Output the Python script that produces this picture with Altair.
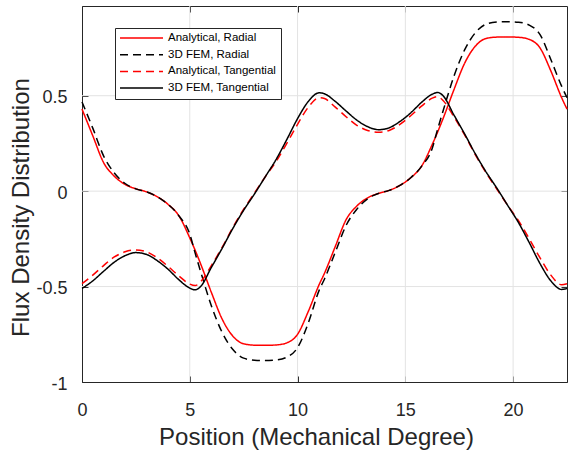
import altair as alt
import pandas as pd

# ---------------- data ----------------
x = [0, 0.5, 1, 1.5, 2, 2.5, 3, 3.5, 4, 4.5, 5, 5.25, 5.5, 6, 6.5, 7, 7.5, 8, 8.5, 9, 9.5, 10, 10.5, 11,
     11.25, 11.75, 12.25, 12.75, 13.25, 13.75, 14.25, 14.75, 15.25, 15.75, 16.25, 16.5, 16.75, 17.25,
     17.75, 18.25, 18.75, 19.25, 19.75, 20.25, 20.75, 21.25, 21.75, 22.25, 22.5]

analytical_radial = [0.43, 0.29, 0.15, 0.078, 0.035, 0.012, -0.004, -0.03, -0.07, -0.13, -0.245, -0.31,
                     -0.38, -0.53, -0.67, -0.76, -0.80, -0.807, -0.808, -0.806, -0.795, -0.75, -0.63, -0.49,
                     -0.43, -0.29, -0.15, -0.078, -0.035, -0.012, 0.004, 0.03, 0.07, 0.13, 0.245, 0.31,
                     0.38, 0.53, 0.67, 0.76, 0.80, 0.807, 0.808, 0.806, 0.795, 0.75, 0.63, 0.49, 0.43]

fem_radial = [0.467, 0.33, 0.185, 0.095, 0.04, 0.012, -0.004, -0.03, -0.07, -0.13, -0.225, -0.325,
              -0.42, -0.60, -0.74, -0.83, -0.875, -0.886, -0.888, -0.885, -0.87, -0.82, -0.69, -0.52,
              -0.46, -0.32, -0.18, -0.095, -0.04, -0.012, 0.004, 0.03, 0.07, 0.13, 0.225, 0.325,
              0.42, 0.60, 0.74, 0.83, 0.875, 0.886, 0.888, 0.885, 0.87, 0.82, 0.69, 0.55, 0.49]

analytical_tangential = [-0.485, -0.44, -0.39, -0.345, -0.318, -0.308, -0.318, -0.35, -0.395, -0.445, -0.487,
                         -0.495, -0.475, -0.39, -0.295, -0.19, -0.095, -0.01, 0.075, 0.155, 0.25, 0.35, 0.44,
                         0.49,
                         0.485, 0.44, 0.39, 0.345, 0.318, 0.308, 0.318, 0.35, 0.395, 0.445, 0.487,
                         0.495, 0.475, 0.39, 0.295, 0.19, 0.095, 0.01, -0.075, -0.155, -0.25, -0.35, -0.44,
                         -0.49, -0.485]

fem_tangential = [-0.51, -0.47, -0.42, -0.372, -0.338, -0.322, -0.332, -0.365, -0.41, -0.465, -0.508,
                  -0.517, -0.50, -0.40, -0.30, -0.195, -0.10, -0.015, 0.075, 0.165, 0.27, 0.38, 0.47,
                  0.515,
                  0.51, 0.47, 0.42, 0.372, 0.338, 0.322, 0.332, 0.365, 0.41, 0.465, 0.508,
                  0.517, 0.50, 0.40, 0.30, 0.195, 0.10, 0.015, -0.075, -0.165, -0.27, -0.38, -0.47,
                  -0.515, -0.51]

series_names = ["Analytical, Radial", "3D FEM, Radial", "Analytical, Tangential", "3D FEM, Tangential"]
series_colors = ["#ff0000", "#000000", "#ff0000", "#000000"]
series_dash = [[1, 0], [8, 5], [8, 5], [1, 0]]

x_ticks = [0, 5, 10, 15, 20]
y_ticks = [-1, -0.5, 0, 0.5]
x_grid = [5, 10, 15, 20]
y_grid = [-0.5, 0, 0.5]

rows = []
for name, vals in zip(series_names, [analytical_radial, fem_radial, analytical_tangential, fem_tangential]):
    for xi, yi in zip(x, vals):
        rows.append({"series": name, "x": xi, "y": yi})
df = pd.DataFrame(rows)

# ---------------- styling ----------------
FONT = "Liberation Sans"
TXT = "#262626"
GRID = "#e3e3e3"

xscale = alt.Scale(domain=[0, 22.5], nice=False, zero=False)
yscale = alt.Scale(domain=[-1, 0.97], nice=False, zero=False)

common_axis = dict(labelFont=FONT, labelColor=TXT, titleFont=FONT, titleColor=TXT,
                   titleFontWeight="normal", tickColor=TXT, tickWidth=1, tickSize=6,
                   domain=False, grid=False, offset=-6, labelFlush=False)

legend = alt.Legend(title=None, orient="none", legendX=33, legendY=22,
                    symbolType="stroke", symbolSize=1849, symbolStrokeWidth=1.5,
                    clipHeight=12, labelFont=FONT, labelFontSize=11.5, labelColor="#000000",
                    padding=4, rowPadding=4.7, labelOffset=4,
                    strokeColor=TXT, fillColor="white")

grid_x = alt.Chart(pd.DataFrame({"gx": x_grid})).mark_rule(color=GRID, strokeWidth=1).encode(
    x=alt.X("gx:Q", scale=xscale,
            axis=alt.Axis(orient="top", values=x_ticks, labels=False, title=None, **common_axis))
)

grid_y = alt.Chart(pd.DataFrame({"gy": y_grid})).mark_rule(color=GRID, strokeWidth=1).encode(
    y=alt.Y("gy:Q", scale=yscale,
            axis=alt.Axis(orient="right", values=y_ticks, labels=False, title=None, **common_axis))
)

lines = alt.Chart(df).mark_line(strokeWidth=1.5, interpolate="monotone").encode(
    x=alt.X("x:Q", scale=xscale,
            axis=alt.Axis(orient="bottom", values=x_ticks, title="Position (Mechanical Degree)",
                          labelFontSize=18, titleFontSize=24, labelPadding=19,
                          labelExpr="datum.value + ''",
                          titleX=234, titleY=68, titleBaseline="alphabetic", **common_axis)),
    y=alt.Y("y:Q", scale=yscale,
            axis=alt.Axis(orient="left", values=y_ticks, title="Flux Density Distribution",
                          labelFontSize=18, titleFontSize=24, labelPadding=15, labelOffset=2,
                          labelExpr="datum.value + ''",
                          titleX=-60, titleY=201, titleBaseline="alphabetic", **common_axis)),
    color=alt.Color("series:N", scale=alt.Scale(domain=series_names, range=series_colors), legend=legend),
    strokeDash=alt.StrokeDash("series:N", scale=alt.Scale(domain=series_names, range=series_dash), legend=legend),
)

chart = alt.layer(grid_x, grid_y, lines).resolve_axis(x="independent", y="independent").properties(
    width=485, height=376,
    autosize=alt.AutoSizeParams(type="none"),
    padding={"left": 82, "top": 6, "right": 1, "bottom": 70},
    background="white",
).configure_view(stroke=TXT, strokeWidth=1)

chart.save("out.html", embed_options={"renderer": "svg", "actions": False})
